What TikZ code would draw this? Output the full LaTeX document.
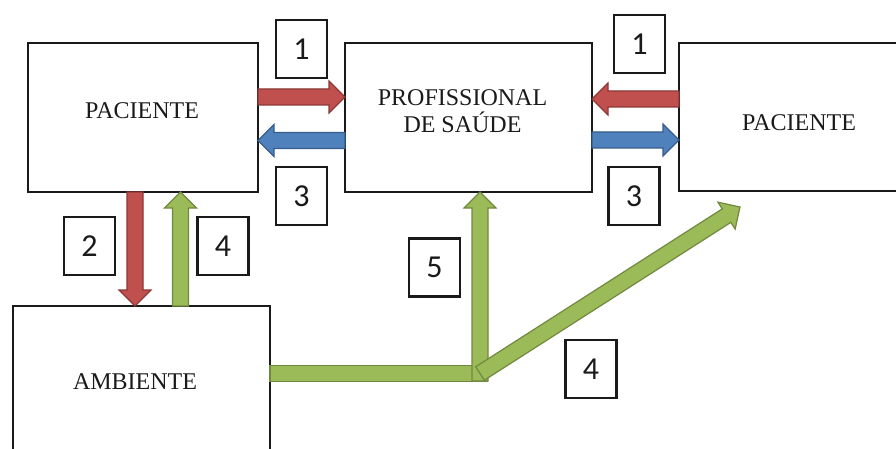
\documentclass[tikz,border=0pt]{standalone}
\usepackage{fontspec}
\setmainfont{Liberation Serif}
\newfontfamily\numfont{Carlito}
\usetikzlibrary{calc}

\definecolor{redfill}{HTML}{C0504D}
\definecolor{redline}{HTML}{8C3836}
\definecolor{bluefill}{HTML}{4F81BD}
\definecolor{blueline}{HTML}{385D8A}
\definecolor{greenfill}{HTML}{9BBB59}
\definecolor{greenline}{HTML}{71893F}
\definecolor{ink}{HTML}{1A1A1A}

% half shaft width, half head width, head length
\newcommand\arrsw{8pt}
\newcommand\arrhw{16pt}
\newcommand\arrhl{16pt}

% block arrow from #2 to #3, drawn with style #1
\newcommand\blockarrow[3]{%
  \draw[#1] let \p1=#2, \p2=#3,
      \n1={atan2(\y2-\y1,\x2-\x1)}, \n2={veclen(\x2-\x1,\y2-\y1)} in
    [shift={(\p1)}, rotate=\n1]
    (0pt,\arrsw) -- ({\n2-\arrhl},\arrsw) -- ({\n2-\arrhl},\arrhw)
    -- ({\n2+0pt},0pt) -- ({\n2-\arrhl},-\arrhw) -- ({\n2-\arrhl},-\arrsw)
    -- (0pt,-\arrsw) -- cycle;}

% plain bar (no head) from #2 to #3
\newcommand\blockbar[3]{%
  \draw[#1] let \p1=#2, \p2=#3,
      \n1={atan2(\y2-\y1,\x2-\x1)}, \n2={veclen(\x2-\x1,\y2-\y1)} in
    [shift={(\p1)}, rotate=\n1]
    (0pt,\arrsw) -- ({\n2+0pt},\arrsw) -- ({\n2+0pt},-\arrsw) -- (0pt,-\arrsw) -- cycle;}

\tikzset{
  bigbox/.style={draw=ink, line width=2.5pt, fill=white, inner sep=0pt, outer sep=0pt},
  numbox/.style={draw=ink, line width=2.2pt, fill=white, inner sep=0pt,
    minimum width=51pt, minimum height=58pt, font=\numfont\fontsize{32}{36}\selectfont, text=ink},
  lbl/.style={font=\fontsize{24}{27}\selectfont, text=ink, align=center, inner sep=0pt},
  redarr/.style={fill=redfill, draw=redline, line width=1.2pt},
  bluearr/.style={fill=bluefill, draw=blueline, line width=1.2pt},
  greenarr/.style={fill=greenfill, draw=greenline, line width=1.2pt},
}

\begin{document}
\begin{tikzpicture}[x=1pt, y=-1pt]
  \useasboundingbox (0,0) rectangle (896,449);
  \fill[white] (0,0) rectangle (896,449);

  % main boxes
  \node[bigbox, minimum width=230pt, minimum height=149pt] (pacL) at (143,117.5) {};
  \node[bigbox, minimum width=247pt, minimum height=149pt] (prof) at (468.5,117.5) {};
  \node[bigbox, minimum width=240pt, minimum height=148pt] (pacR) at (799,117) {};
  \node[bigbox, minimum width=257pt, minimum height=159pt] (amb) at (141.5,385.5) {};

  % box texts
  \node[lbl] (pacLtxt) at (142,111) {PACIENTE};
  \node[lbl] (proftxt) at (462.5,111.5) {PROFISSIONAL\\DE SAÚDE};
  \node[lbl] (pacRtxt) at (799,123) {PACIENTE};
  \node[lbl] (ambtxt) at (135,382) {AMBIENTE};

  % step numbers
  \node[numbox] (n1L) at (301.5,49) {1};
  \node[numbox] (n3L) at (301.5,196) {3};
  \node[numbox] (n1R) at (639.5,44) {1};
  \node[numbox] (n3R) at (634,196) {3};
  \node[numbox] (n2)  at (89.5,246) {2};
  \node[numbox] (n4L) at (223,246) {4};
  \node[numbox] (n5)  at (434.5,267.5) {5};
  \node[numbox] (n4B) at (591,369) {4};

  % exchanges between patients and the health professional
  \blockarrow{redarr}{(pacL.east |- 0,97)}{(prof.west |- 0,97)}
  \blockarrow{bluearr}{(prof.west |- 0,140.5)}{(pacL.east |- 0,140.5)}
  \blockarrow{redarr}{(pacR.west |- 0,99)}{(prof.east |- 0,99)}
  \blockarrow{bluearr}{(prof.east |- 0,140)}{(pacR.west |- 0,140)}

  % patient <-> environment
  \blockarrow{redarr}{(pacL.south -| 135,0)}{(amb.north -| 135,0)}
  \blockarrow{greenarr}{(amb.north -| 180.5,0)}{(pacL.south -| 180.5,0)}

  % environment towards professional and second patient
  \coordinate (jn) at (480,373.5);
  \coordinate (jnend) at (487.5,373.5);
  \coordinate (jnlow) at (480,381);
  \coordinate (diagtip) at (740,207);
  \blockbar{greenarr}{(amb.east |- jn)}{(jnend)}
  \blockarrow{greenarr}{(jnlow)}{(prof.south -| jn)}
  \blockarrow{greenarr}{(jn)}{(diagtip)}
\end{tikzpicture}
\end{document}
